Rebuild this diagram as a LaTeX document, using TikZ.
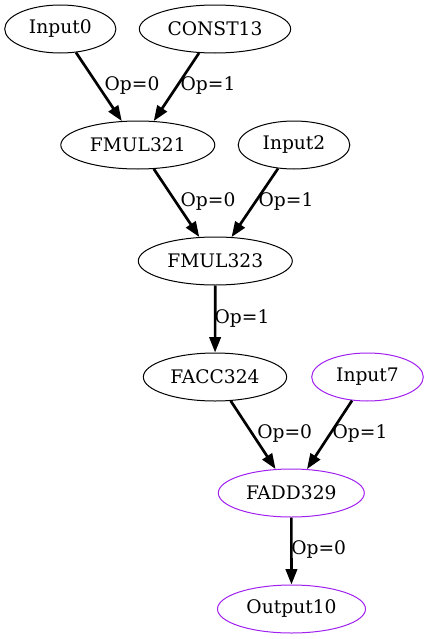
\documentclass[tikz,border=0pt]{standalone}
\usepackage{fontspec}
\setmainfont{DejaVu Serif}
\usetikzlibrary{shapes.geometric,arrows.meta}
\definecolor{gvpurple}{HTML}{A020F0}
\begin{document}
\begin{tikzpicture}[x=0.75pt,y=-0.75pt,
  nd/.style={ellipse,draw,line width=0.75pt,inner sep=0pt,minimum height=36pt,font=\fontsize{14}{16}\selectfont},
  pnd/.style={nd,draw=gvpurple},
  ed/.style={line width=2pt,-{Triangle[length=11.5pt,width=8.5pt]}},
  lbl/.style={font=\fontsize{14}{16}\selectfont,inner sep=0pt}]
\useasboundingbox (0,0) rectangle (428,639);
\node[nd,minimum width=83.4pt] (in0) at (60.3,29) {Input0};
\node[nd,minimum width=113.5pt] (c13) at (215,29) {CONST13};
\node[nd,minimum width=115.5pt] (f321) at (137.8,145) {FMUL321};
\node[nd,minimum width=83.7pt] (in2) at (294,145) {Input2};
\node[nd,minimum width=115.5pt] (f323) at (215.3,261) {FMUL323};
\node[nd,minimum width=107.5pt] (f324) at (215,377) {FACC324};
\node[pnd,minimum width=83.7pt] (in7) at (367.5,377) {Input7};
\node[pnd,minimum width=109.5pt] (f329) at (291.3,493) {FADD329};
\node[pnd,minimum width=111pt] (out10) at (291.5,609) {Output10};
\draw[ed] (in0) -- (f321);
\draw[ed] (c13) -- (f321);
\draw[ed] (f321) -- (f323);
\draw[ed] (in2) -- (f323);
\draw[ed] (f323) -- (f324);
\draw[ed] (f324) -- (f329);
\draw[ed] (in7) -- (f329);
\draw[ed] (f329) -- (out10);
\node[lbl] (l1) at (132,86) {Op=0};
\node[lbl] (l2) at (208,86) {Op=1};
\node[lbl] (l3) at (208,201.7) {Op=0};
\node[lbl] (l4) at (286,201.7) {Op=1};
\node[lbl] (l5) at (242,318.3) {Op=1};
\node[lbl] (l6) at (284.7,434) {Op=0};
\node[lbl] (l7) at (360,434) {Op=1};
\node[lbl] (l8) at (318.7,549.3) {Op=0};
\end{tikzpicture}
\end{document}
